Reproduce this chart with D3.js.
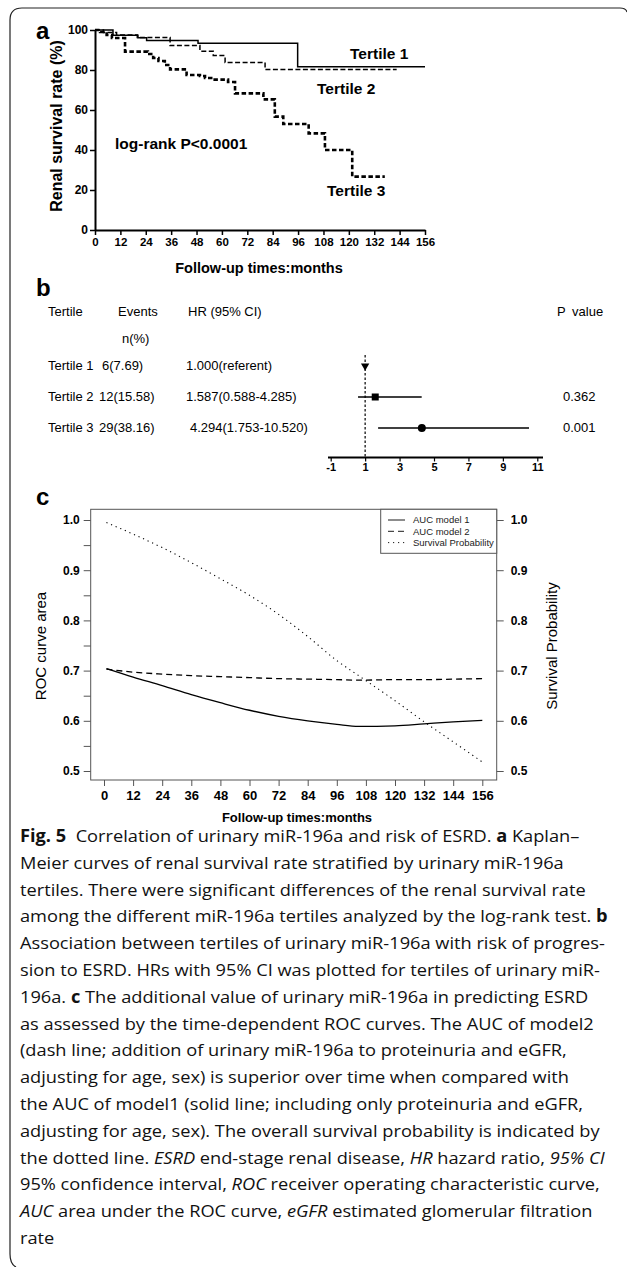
<!DOCTYPE html>
<html>
<head>
<meta charset="utf-8">
<script src="https://cdn.jsdelivr.net/npm/d3@7"></script>
<style>
  body { margin: 0; background: #fff; }
  svg { display: block; }
</style>
</head>
<body>
<div id="chart"></div>
<script>
// ---- panel a: Kaplan-Meier steps (months, renal survival %) ----
const kmTimes1 = [0, 8.5, 20.3, 24.4, 48.7, 95.8, 156];
const kmSurv1  = [100, 97.4, 96.1, 94.8, 93.4, 81.6, 81.6];
const kmTimes2 = [0, 4, 10.2, 20, 35.5, 49.6, 55.9, 61.5, 80.4, 142.6];
const kmSurv2  = [100, 98.8, 97.5, 96.2, 92.2, 89.4, 87.2, 83.8, 80.2, 80.2];
const kmTimes3 = [0, 2.4, 5.5, 8, 14.2, 25, 27.5, 30, 33, 35.5, 43.3, 49.6, 52, 55.9, 62.9, 66.2, 79.6, 85, 89, 101, 108.7, 121.6, 137];
const kmSurv3  = [100, 99, 97.5, 96, 89.2, 88, 86, 84.5, 82.5, 80.3, 77.5, 77, 76, 75.2, 74, 68.3, 65.3, 56.7, 53, 48.3, 40, 26.7, 26.7];
const monthTicks = d3.range(0, 157, 12);
const pctTicks = [0, 20, 40, 60, 80, 100];

// ---- panel b: hazard ratios ----
const tertiles  = ["Tertile 1", "Tertile 2", "Tertile 3"];
const events    = ["6(7.69)", "12(15.58)", "29(38.16)"];
const hrLabels  = ["1.000(referent)", "1.587(0.588-4.285)", "4.294(1.753-10.520)"];
const hrValues  = [1.000, 1.587, 4.294];
const hrLow     = [null, 0.588, 1.753];
const hrHigh    = [null, 4.285, 10.520];
const pValues   = ["", "0.362", "0.001"];
const hrTicks   = [-1, 1, 3, 5, 7, 9, 11];

// ---- panel c: time-dependent ROC ----
const rocTimes = [1, 12, 24, 36, 48, 60, 72, 84, 96, 105, 120, 132, 144, 156];
const aucModel1 = [0.704, 0.687, 0.670, 0.652, 0.636, 0.621, 0.609, 0.600, 0.593, 0.589, 0.590, 0.594, 0.598, 0.601];
const aucModel2 = [0.703, 0.697, 0.693, 0.690, 0.688, 0.686, 0.684, 0.683, 0.682, 0.681, 0.682, 0.682, 0.683, 0.684];
const survProb  = [0.995, 0.972, 0.945, 0.915, 0.883, 0.850, 0.812, 0.768, 0.720, 0.690, 0.640, 0.598, 0.558, 0.518];
const rocTicks = [0.5, 0.6, 0.7, 0.8, 0.9, 1.0];
const rocMinor = d3.range(0.5, 1.001, 0.05);
const legendLabels = ["AUC model 1", "AUC model 2", "Survival Probability"];

// ---- caption ----
const captionLines = [
  [["Fig. 5", "b"], ["  Correlation of urinary miR-196a and risk of ESRD. "], ["a", "b"], [" Kaplan\u2013"]],
  [["Meier curves of renal survival rate stratified by urinary miR-196a"]],
  [["tertiles. There were significant differences of the renal survival rate"]],
  [["among the different miR-196a tertiles analyzed by the log-rank test. "], ["b", "b"]],
  [["Association between tertiles of urinary miR-196a with risk of progres-"]],
  [["sion to ESRD. HRs with 95% CI was plotted for tertiles of urinary miR-"]],
  [["196a. "], ["c", "b"], [" The additional value of urinary miR-196a in predicting ESRD"]],
  [["as assessed by the time-dependent ROC curves. The AUC of model2"]],
  [["(dash line; addition of urinary miR-196a to proteinuria and eGFR,"]],
  [["adjusting for age, sex) is superior over time when compared with"]],
  [["the AUC of model1 (solid line; including only proteinuria and eGFR,"]],
  [["adjusting for age, sex). The overall survival probability is indicated by"]],
  [["the dotted line. "], ["ESRD", "i"], [" end-stage renal disease, "], ["HR", "i"], [" hazard ratio, "], ["95% CI", "i"]],
  [["95% confidence interval, "], ["ROC", "i"], [" receiver operating characteristic curve,"]],
  [["AUC", "i"], [" area under the ROC curve, "], ["eGFR", "i"], [" estimated glomerular filtration"]],
  [["rate"]]
];

const W = 627, H = 1267;
const FONT = "'Liberation Sans', Arial, sans-serif";
const svg = d3.select("#chart").append("svg")
  .attr("width", W).attr("height", H)
  .style("font-family", FONT);

// frame
svg.append("path")
  .attr("d", "M627,12 Q626,8 620,8 H22 Q10,8 10,20 V1254 Q10,1264 16,1267")
  .attr("fill", "none").attr("stroke", "#222").attr("stroke-width", 1.2);

function panelLetter(t, x, y) {
  svg.append("text").attr("x", x).attr("y", y).text(t)
    .attr("font-size", 24).attr("font-weight", "bold");
}

// ================= panel a =================
panelLetter("a", 36, 39);
const xA = d3.scaleLinear().domain([0, 156]).range([95, 425]);
const yA = d3.scaleLinear().domain([0, 100]).range([230, 30]);

const gAx = svg.append("g").attr("transform", "translate(0,230)")
  .call(d3.axisBottom(xA).tickValues(monthTicks).tickSize(5).tickSizeOuter(0).tickPadding(3));
const gAy = svg.append("g").attr("transform", "translate(95,0)")
  .call(d3.axisLeft(yA).tickValues(pctTicks).tickSize(5).tickSizeOuter(0).tickPadding(2));
[gAx, gAy].forEach(g => {
  g.select(".domain").attr("stroke-width", 2);
  g.selectAll(".tick line").attr("stroke-width", 1.5);
  g.selectAll(".tick text").attr("font-weight", "bold")
    .attr("font-family", FONT).attr("fill", "#000");
});
gAx.selectAll(".tick text").attr("font-size", 11.5);
gAy.selectAll(".tick text").attr("font-size", 12);

const kmLine = d3.line().x(d => xA(d[0])).y(d => yA(d[1])).curve(d3.curveStepAfter);
const kmSeries = [
  { t: kmTimes1, s: kmSurv1, w: 1.5, dash: null },
  { t: kmTimes2, s: kmSurv2, w: 1.5, dash: "5,2.5" },
  { t: kmTimes3, s: kmSurv3, w: 2.6, dash: "4.5,2.5" }
];
kmSeries.forEach(k => {
  svg.append("path")
    .datum(k.t.map((t, i) => [t, k.s[i]]))
    .attr("d", kmLine).attr("fill", "none").attr("stroke", "#000")
    .attr("stroke-width", k.w).attr("stroke-dasharray", k.dash);
});

const boldA = (t, x, y, size) => svg.append("text").attr("x", x).attr("y", y).text(t)
  .attr("font-size", size).attr("font-weight", "bold");
boldA("Tertile 1", 350, 59, 15.5);
boldA("Tertile 2", 317, 94, 15.5);
boldA("Tertile 3", 327, 196, 15.5);
boldA("log-rank P<0.0001", 115, 149, 15.5);
boldA("Follow-up times:months", 259, 273, 14.5).attr("text-anchor", "middle");
svg.append("text").attr("transform", "translate(62,126) rotate(-90)")
  .attr("text-anchor", "middle").attr("font-size", 16).attr("font-weight", "bold")
  .text("Renal survival rate (%)");

// ================= panel b =================
panelLetter("b", 36, 296);
const bFont = 13;
const bText = (t, x, y) => svg.append("text").attr("x", x).attr("y", y).text(t)
  .attr("font-size", bFont);
bText("Tertile", 48, 316);
bText("Events", 118, 316);
bText("HR (95% CI)", 188, 316);
bText("P value", 557, 316).attr("word-spacing", 3);
bText("n(%)", 122, 343);
const rowY = [370, 401, 432];
const eventX = [102, 99, 99];
const hrX = [186, 186, 190];
tertiles.forEach((t, i) => {
  bText(t, 48, rowY[i]);
  bText(events[i], eventX[i], rowY[i]);
  bText(hrLabels[i], hrX[i], rowY[i]);
  if (pValues[i]) bText(pValues[i], 563, rowY[i]);
});

const xB = d3.scaleLinear().domain([-1, 11]).range([330.7, 537.3]);
const axisBY = 457.5;
const gB = svg.append("g").attr("transform", `translate(0,${axisBY})`)
  .call(d3.axisBottom(xB).tickValues(hrTicks).tickSize(4).tickSizeOuter(0).tickPadding(2)
    .tickFormat(d => String(d)));
gB.select(".domain").remove();
gB.append("line").attr("x1", 328).attr("x2", 543).attr("stroke", "#000").attr("stroke-width", 2);
gB.selectAll(".tick line").attr("stroke-width", 1.2);
gB.selectAll(".tick text").attr("font-size", 11).attr("font-weight", "bold")
  .attr("font-family", FONT).attr("fill", "#000");
// referent line
svg.append("line").attr("x1", xB(1)).attr("x2", xB(1)).attr("y1", 355).attr("y2", axisBY)
  .attr("stroke", "#000").attr("stroke-width", 1.2).attr("stroke-dasharray", "2.5,2");
const cy = i => rowY[i] - 4;
tertiles.forEach((t, i) => {
  if (hrLow[i] != null) {
    svg.append("line").attr("x1", xB(hrLow[i])).attr("x2", xB(hrHigh[i]))
      .attr("y1", cy(i)).attr("y2", cy(i)).attr("stroke", "#000").attr("stroke-width", 1.6);
  }
});
svg.append("path").attr("d", d3.symbol(d3.symbolTriangle, 30))
  .attr("transform", `translate(${xB(hrValues[0])},${cy(0)}) rotate(180)`).attr("fill", "#000");
svg.append("rect").attr("x", xB(hrValues[1]) - 3.5).attr("y", cy(1) - 3.5)
  .attr("width", 7).attr("height", 7).attr("fill", "#000");
svg.append("circle").attr("cx", xB(hrValues[2])).attr("cy", cy(2)).attr("r", 4).attr("fill", "#000");

// ================= panel c =================
panelLetter("c", 36, 505);
const xC = d3.scaleLinear().domain([0, 156]).range([104, 482.3]);
const yC = d3.scaleLinear().domain([0.5, 1.0]).range([771, 520]);
const box = { x0: 90.7, x1: 496.7, y0: 509.3, y1: 780 };
const grey = "#555";

svg.append("rect").attr("x", box.x0).attr("y", box.y0)
  .attr("width", box.x1 - box.x0).attr("height", box.y1 - box.y0)
  .attr("fill", "none").attr("stroke", grey).attr("stroke-width", 1);

const gCx = svg.append("g").attr("transform", `translate(0,${box.y1})`)
  .call(d3.axisBottom(xC).tickValues(monthTicks).tickSize(6).tickSizeOuter(0).tickPadding(5));
const gCl = svg.append("g").attr("transform", `translate(${box.x0},0)`)
  .call(d3.axisLeft(yC).tickValues(rocMinor).tickSize(7).tickSizeOuter(0).tickPadding(4)
    .tickFormat(d => rocTicks.some(v => Math.abs(v - d) < 1e-6) ? d3.format(".1f")(d) : ""));
const gCr = svg.append("g").attr("transform", `translate(${box.x1},0)`)
  .call(d3.axisRight(yC).tickValues(rocTicks).tickSize(7).tickSizeOuter(0).tickPadding(7)
    .tickFormat(d3.format(".1f")));
[gCx, gCl, gCr].forEach(g => {
  g.select(".domain").remove();
  g.selectAll(".tick line").attr("stroke", grey);
  g.selectAll(".tick text").attr("font-size", 12).attr("font-weight", "bold")
    .attr("font-family", FONT).attr("fill", "#000");
});
gCx.selectAll(".tick text").attr("font-size", 13);

const rocLine = d3.line().x(d => xC(d[0])).y(d => yC(d[1])).curve(d3.curveMonotoneX);
const rocSeries = [
  { v: aucModel1, w: 1.3, dash: null },
  { v: aucModel2, w: 1.3, dash: "6,4" },
  { v: survProb, w: 1.1, dash: "1.2,3.8" }
];
rocSeries.forEach(s => {
  svg.append("path").datum(rocTimes.map((t, i) => [t, s.v[i]]))
    .attr("d", rocLine).attr("fill", "none").attr("stroke", "#000")
    .attr("stroke-width", s.w).attr("stroke-dasharray", s.dash);
});

// legend
const lg = svg.append("g");
lg.append("rect").attr("x", 380.7).attr("y", box.y0).attr("width", box.x1 - 380.7).attr("height", 44)
  .attr("fill", "#fff").attr("stroke", grey).attr("stroke-width", 1);
legendLabels.forEach((l, i) => {
  const y = 520 + i * 11.3;
  lg.append("line").attr("x1", 388).attr("x2", 405).attr("y1", y).attr("y2", y)
    .attr("stroke", "#000").attr("stroke-width", 0.9).attr("stroke-dasharray", rocSeries[i].dash);
  lg.append("text").attr("x", 413).attr("y", y + 3.3).text(l)
    .attr("font-size", 9.5).attr("fill", "#222");
});

svg.append("text").attr("transform", "translate(46,646) rotate(-90)")
  .attr("text-anchor", "middle").attr("font-size", 15).text("ROC curve area");
svg.append("text").attr("transform", "translate(557,646) rotate(-90)")
  .attr("text-anchor", "middle").attr("font-size", 15).text("Survival Probability");
svg.append("text").attr("x", 297).attr("y", 822).attr("text-anchor", "middle")
  .attr("font-size", 13).attr("font-weight", "bold").text("Follow-up times:months");

// ================= caption =================
const capX = 20, capY0 = 842, capLH = 26.8;
const capG = svg.append("g").attr("font-family", "'Open Sans', 'Noto Sans', sans-serif")
  .attr("font-size", 17).attr("fill", "#111");
const capNodes = captionLines.map((segs, i) => {
  const t = capG.append("text").attr("xml:space", "preserve")
    .attr("transform", `translate(${capX},${capY0 + i * capLH})`);
  segs.forEach(s => {
    const ts = t.append("tspan").text(s[0]);
    if (s[1] === "b") ts.attr("font-weight", "bold");
    if (s[1] === "i") ts.attr("font-style", "italic");
  });
  return t;
});
// condense the caption horizontally so the widest line spans the column
const targetW = 588;
const natW = d3.max(capNodes, t => t.node().getComputedTextLength());
const k = natW > 0 ? targetW / natW : 1;
capNodes.forEach((t, i) => t.attr("transform", `translate(${capX},${capY0 + i * capLH}) scale(${k},1)`));
</script>
</body>
</html>
